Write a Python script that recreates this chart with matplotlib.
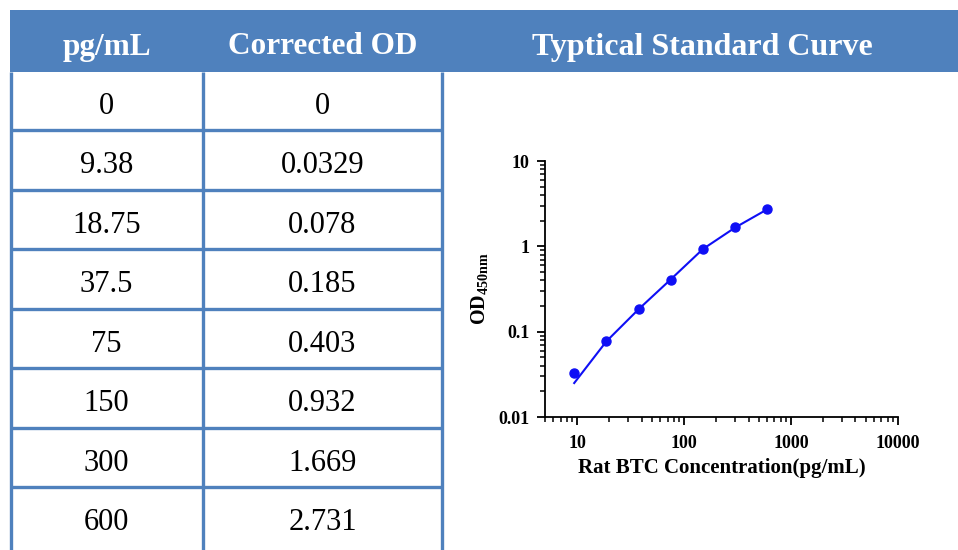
import matplotlib.pyplot as plt
import numpy as np

# table data
conc_labels = ['0', '9.38', '18.75', '37.5', '75', '150', '300', '600']
od_labels = ['0', '0.0329', '0.078', '0.185', '0.403', '0.932', '1.669', '2.731']

# curve data (standards > 0)
conc = [9.38, 18.75, 37.5, 75, 150, 300, 600]
od = [0.0329, 0.078, 0.185, 0.403, 0.932, 1.669, 2.731]
# fitted curve at the standard concentrations
fit_od = [0.025, 0.077, 0.183, 0.41, 0.93, 1.66, 2.72]

blue = '#4F81BD'
serif = ['Liberation Serif', 'DejaVu Serif']

plt.rcParams['mathtext.fontset'] = 'custom'
plt.rcParams['mathtext.rm'] = 'Liberation Serif:bold'
plt.rcParams['mathtext.bf'] = 'Liberation Serif:bold'

fig = plt.figure(figsize=(9.58, 5.5), dpi=100)

# background axes in pixel coordinates for the table
bg = fig.add_axes([0, 0, 1, 1])
bg.set_xlim(0, 958)
bg.set_ylim(550, 0)
bg.axis('off')

# header band
bg.add_patch(plt.Rectangle((10, 10), 948, 62, color=blue, lw=0))
bg.text(106.5, 47, 'pg/mL', color='white', fontsize=22.5, fontweight='bold',
        family=serif, ha='center', va='center')
bg.text(322.5, 47, 'Corrected OD', color='white', fontsize=22.5, fontweight='bold',
        family=serif, ha='center', va='center')
bg.text(702, 47, 'Typtical Standard Curve', color='white', fontsize=23,
        fontweight='bold', family=serif, ha='center', va='center')

# grid lines
row_lines = [130, 189.5, 249, 308.5, 368, 427.5, 487]
for y in row_lines:
    bg.plot([10, 442], [y, y], color=blue, lw=2.4, solid_capstyle='butt')
for x in [11.5, 202.7, 441.7]:
    bg.plot([x, x], [72, 550], color=blue, lw=2.4, solid_capstyle='butt')

row_edges = [72] + row_lines + [546.5]
for i in range(len(conc_labels)):
    yc = (row_edges[i] + row_edges[i + 1]) / 2 + 6
    bg.text(106.5, yc, conc_labels[i], fontsize=22, family=serif,
            ha='center', va='center')
    bg.text(322.5, yc, od_labels[i], fontsize=22, family=serif,
            ha='center', va='center')

# standard curve
ax = fig.add_axes([545 / 958, 133 / 550, 353 / 958, 256 / 550])
ax.plot(conc, fit_od, color='#0F0FF5', lw=1.5)
ax.plot(conc, od, 'o', color='#0F0FF5', ms=6.5)
ax.set_xscale('log')
ax.set_yscale('log')
ax.set_xlim(5, 10000)
ax.set_ylim(0.01, 10)
ax.set_xticks([10, 100, 1000, 10000])
ax.set_xticklabels(['10', '100', '1000', '10000'])
ax.set_yticks([0.01, 0.1, 1, 10])
ax.set_yticklabels(['0.01', '0.1', '1', '10'])

for s in ['top', 'right']:
    ax.spines[s].set_visible(False)
for s in ['left', 'bottom']:
    ax.spines[s].set_linewidth(1.3)

ax.tick_params(which='major', length=6, width=1.3, labelsize=13)
ax.tick_params(which='minor', length=3.5, width=1.1)
ax.tick_params(axis='x', which='major', pad=7)
ax.tick_params(axis='y', which='major', pad=5)
for lbl in ax.get_xticklabels() + ax.get_yticklabels():
    lbl.set_fontweight('bold')
    lbl.set_family(serif)

ax.set_xlabel('Rat BTC Concentration(pg/mL)', fontsize=15, fontweight='bold',
              family=serif, labelpad=4)
ax.set_ylabel(r'$\mathbf{OD_{450nm}}$', fontsize=14.5, labelpad=6)

fig.savefig('out.png', dpi=100)
